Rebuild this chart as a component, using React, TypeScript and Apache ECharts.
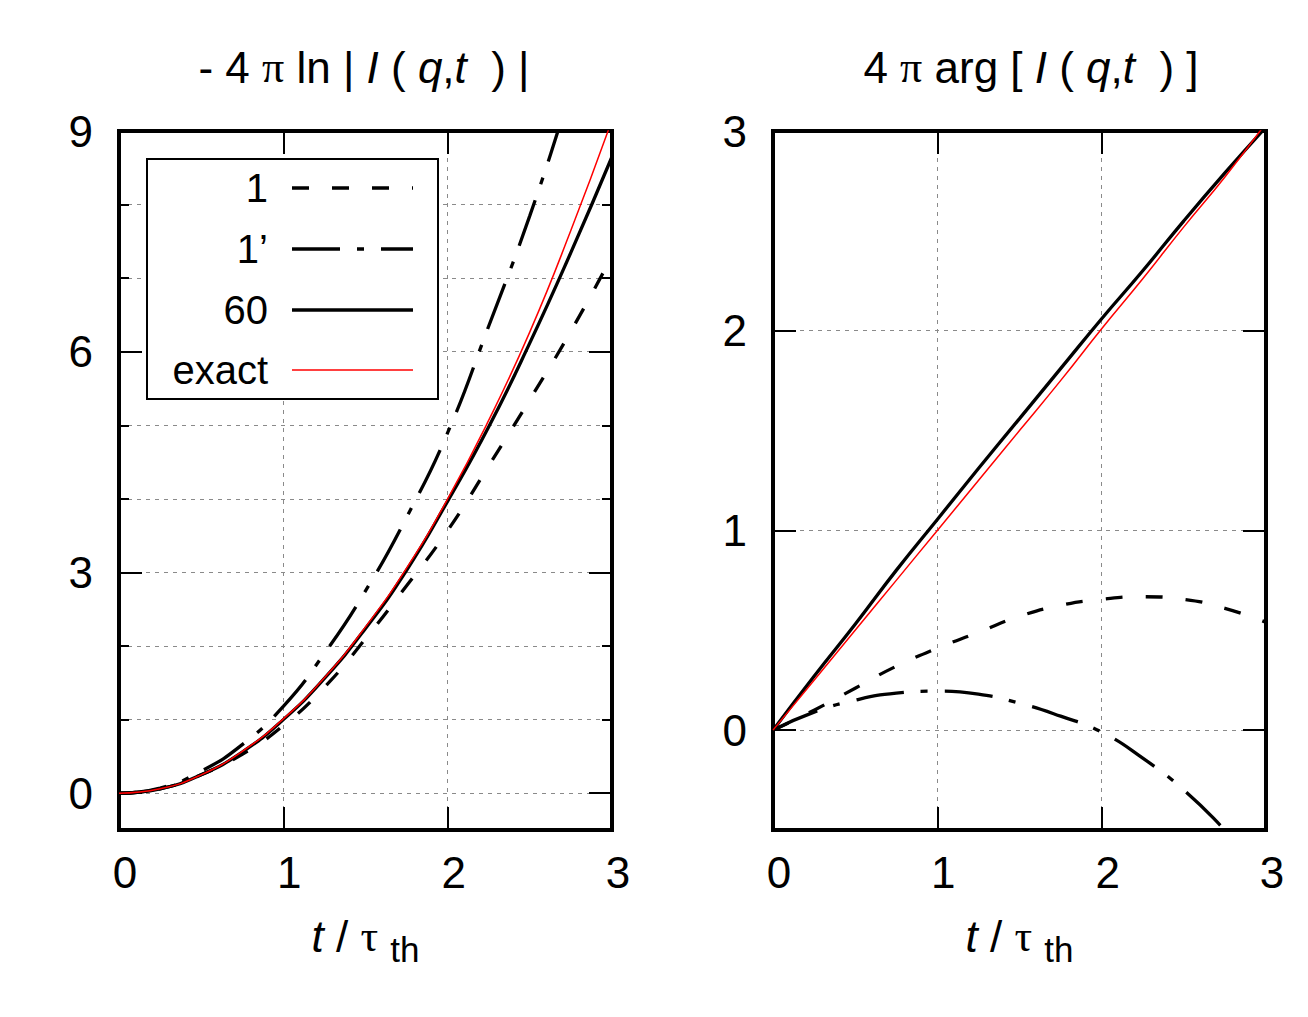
import React, { useEffect, useRef } from 'react';
import * as echarts from 'echarts';

const FONT = "'Liberation Sans', Arial, Helvetica, sans-serif";
const SERIF = "'Liberation Serif', 'Times New Roman', serif";

// sample times t / tau_th
const T = [0, 0.25, 0.5, 0.75, 1, 1.25, 1.5, 1.75, 2, 2.25, 2.5, 2.75, 3];
const seriesNames = ['1', '1\u2019', '60', 'exact'];

// left panel: -4 pi ln|I(q,t)|
const lnOne = [0, 0.06, 0.25, 0.53, 0.92, 1.44, 2.1, 2.82, 3.57, 4.45, 5.35, 6.28, 7.3];
const lnOnePrime = [0, 0.07, 0.3, 0.66, 1.18, 1.9, 2.75, 3.75, 4.9, 6.35, 7.85, 9.55, 11.3];
const lnSixty = [0, 0.06, 0.25, 0.56, 1.0, 1.56, 2.24, 3.03, 3.97, 4.98, 6.12, 7.35, 8.65];
const lnExact = [0, 0.06, 0.25, 0.57, 1.01, 1.57, 2.26, 3.06, 4.0, 5.07, 6.27, 7.65, 9.15];

// right panel: 4 pi arg[I(q,t)]
const argOne = [0, 0.1, 0.21, 0.32, 0.41, 0.49, 0.57, 0.625, 0.655, 0.668, 0.655, 0.61, 0.54];
const argOnePrime = [0, 0.09, 0.15, 0.185, 0.195, 0.18, 0.135, 0.07, -0.01, -0.14, -0.3, -0.5, -0.72];
const argSixty = [0, 0.27, 0.53, 0.8, 1.055, 1.31, 1.56, 1.81, 2.06, 2.3, 2.55, 2.79, 3.02];
const argExact = [0, 0.25, 0.5, 0.75, 1.0, 1.25, 1.5, 1.75, 2.01, 2.26, 2.52, 2.77, 3.04];

// ticks / labels
const xTickVals = [1, 2];
const xLabelVals = [0, 1, 2, 3];
const lnMajorTicks = [0, 3, 6];
const lnMinorTicks = [1, 2, 4, 5, 7, 8];
const lnLabelVals = [0, 3, 6, 9];
const argTicks = [0, 1, 2];
const argLabelVals = [0, 1, 2, 3];

const gridLine = { show: true, lineStyle: { color: '#8a8a8a', width: 1, type: [4, 5] } };
const tickStyle = { color: '#000', width: 2 };
const labelBase = { fontSize: 44, fontFamily: FONT, color: '#000' };

function xBottom(gridIndex: number) {
  return {
    type: 'value', gridIndex, min: 0, max: 3, position: 'bottom',
    axisLine: { show: false, onZero: false },
    axisTick: { show: true, inside: true, length: 23, customValues: xTickVals, lineStyle: tickStyle },
    axisLabel: { show: true, customValues: xLabelVals, margin: 20, padding: [0, 0, 0, 12], ...labelBase },
    splitLine: gridLine,
    name: '{i|t} / {g|\u03c4} {s|th}',
    nameLocation: 'middle',
    nameGap: 76,
    nameTextStyle: {
      ...labelBase,
      rich: {
        i: { ...labelBase, fontStyle: 'italic' },
        g: { ...labelBase, fontFamily: SERIF },
        s: { ...labelBase, fontSize: 35, padding: [26, 0, 0, 0] },
      },
    },
  };
}

function xTop(gridIndex: number) {
  return {
    type: 'value', gridIndex, min: 0, max: 3, position: 'top',
    axisLine: { show: false, onZero: false },
    axisTick: { show: true, inside: true, length: 23, customValues: xTickVals, lineStyle: tickStyle },
    axisLabel: { show: false },
    splitLine: { show: false },
  };
}

function yAxis(gridIndex: number, min: number, max: number, position: string, ticks: number[], len: number, labels: number[] | null, split: boolean) {
  return {
    type: 'value', gridIndex, min, max, position,
    axisLine: { show: false, onZero: false },
    axisTick: { show: true, inside: true, length: len, customValues: ticks, lineStyle: tickStyle },
    axisLabel: labels ? { show: true, customValues: labels, margin: 26, ...labelBase } : { show: false },
    splitLine: split ? gridLine : { show: false },
  };
}

const styleDashed = { color: '#000', width: 3.3, type: [17, 23], cap: 'butt' };
const styleDashDot = { color: '#000', width: 3.3, type: [48, 17, 7, 17], cap: 'butt' };
const styleSolid = { color: '#000', width: 3.3 };
const styleExact = { color: '#ff0000', width: 1.5 };
const styles = [styleDashed, styleDashDot, styleSolid, styleExact];

function line(name: string, vals: number[], xi: number, yi: number, style: any) {
  return {
    type: 'line', name, xAxisIndex: xi, yAxisIndex: yi,
    data: T.map((t, i) => [t, vals[i]]),
    showSymbol: false, symbol: 'none', smooth: true, clip: true, silent: true,
    lineStyle: style,
  };
}

const titleRich = {
  i: { fontStyle: 'italic', fontSize: 44, fontFamily: FONT, fill: '#000' },
  g: { fontSize: 44, fontFamily: SERIF, fill: '#000' },
};

function legendGraphics() {
  const els: any[] = [
    { type: 'rect', z: 100, shape: { x: 147, y: 159, width: 291, height: 240 }, style: { fill: '#fff', stroke: '#000', lineWidth: 2 } },
  ];
  const ys = [188, 249, 310, 370];
  seriesNames.forEach((n, i) => {
    const st: any = styles[i];
    els.push({
      type: 'text', z: 101, x: 268, y: ys[i],
      style: { text: n, align: 'right', verticalAlign: 'middle', fontSize: 40, fontFamily: FONT, fill: '#000' },
    });
    els.push({
      type: 'line', z: 101, shape: { x1: 292, y1: ys[i], x2: 413, y2: ys[i] },
      style: { stroke: st.color, lineWidth: st.width, lineDash: Array.isArray(st.type) ? st.type : null, lineCap: 'butt' },
    });
  });
  return els;
}

export default function App() {
  const ref = useRef<HTMLDivElement>(null);
  useEffect(() => {
    document.body.style.margin = '0';
    const chart = echarts.init(ref.current!, undefined, { renderer: 'svg' });
    const option: any = {
      animation: false,
      backgroundColor: '#fff',
      grid: [
        { left: 119, top: 131, width: 493, height: 699, show: true, borderColor: '#000', borderWidth: 4, backgroundColor: 'transparent' },
        { left: 773, top: 131, width: 493, height: 699, show: true, borderColor: '#000', borderWidth: 4, backgroundColor: 'transparent' },
      ],
      xAxis: [xBottom(0), xTop(0), xBottom(1), xTop(1)],
      yAxis: [
        yAxis(0, -0.5, 9, 'left', lnMajorTicks, 23, lnLabelVals, true),
        yAxis(0, -0.5, 9, 'left', lnMinorTicks, 10, null, true),
        yAxis(0, -0.5, 9, 'right', lnMajorTicks, 23, null, false),
        yAxis(0, -0.5, 9, 'right', lnMinorTicks, 10, null, false),
        yAxis(1, -0.5, 3, 'left', argTicks, 23, argLabelVals, true),
        yAxis(1, -0.5, 3, 'right', argTicks, 23, null, false),
      ],
      series: [
        line(seriesNames[0], lnOne, 0, 0, styleDashed),
        line(seriesNames[1], lnOnePrime, 0, 0, styleDashDot),
        line(seriesNames[2], lnSixty, 0, 0, styleSolid),
        line(seriesNames[3], lnExact, 0, 0, styleExact),
        line(seriesNames[0], argOne, 2, 4, styleDashed),
        line(seriesNames[1], argOnePrime, 2, 4, styleDashDot),
        line(seriesNames[2], argSixty, 2, 4, styleSolid),
        line(seriesNames[3], argExact, 2, 4, styleExact),
      ],
      graphic: [
        {
          type: 'text', x: 364, y: 67,
          style: { text: '- 4 {g|\u03c0} ln | {i|I} ( {i|q},{i|t}  ) |', align: 'center', verticalAlign: 'middle', fontSize: 44, fontFamily: FONT, fill: '#000', rich: titleRich },
        },
        {
          type: 'text', x: 1031, y: 67,
          style: { text: '4 {g|\u03c0} arg [ {i|I} ( {i|q},{i|t}  ) ]', align: 'center', verticalAlign: 'middle', fontSize: 44, fontFamily: FONT, fill: '#000', rich: titleRich },
        },
        ...legendGraphics(),
      ],
    };
    chart.setOption(option);
    return () => chart.dispose();
  }, []);
  return <div ref={ref} style={{ width: 1308, height: 1017 }} />;
}
